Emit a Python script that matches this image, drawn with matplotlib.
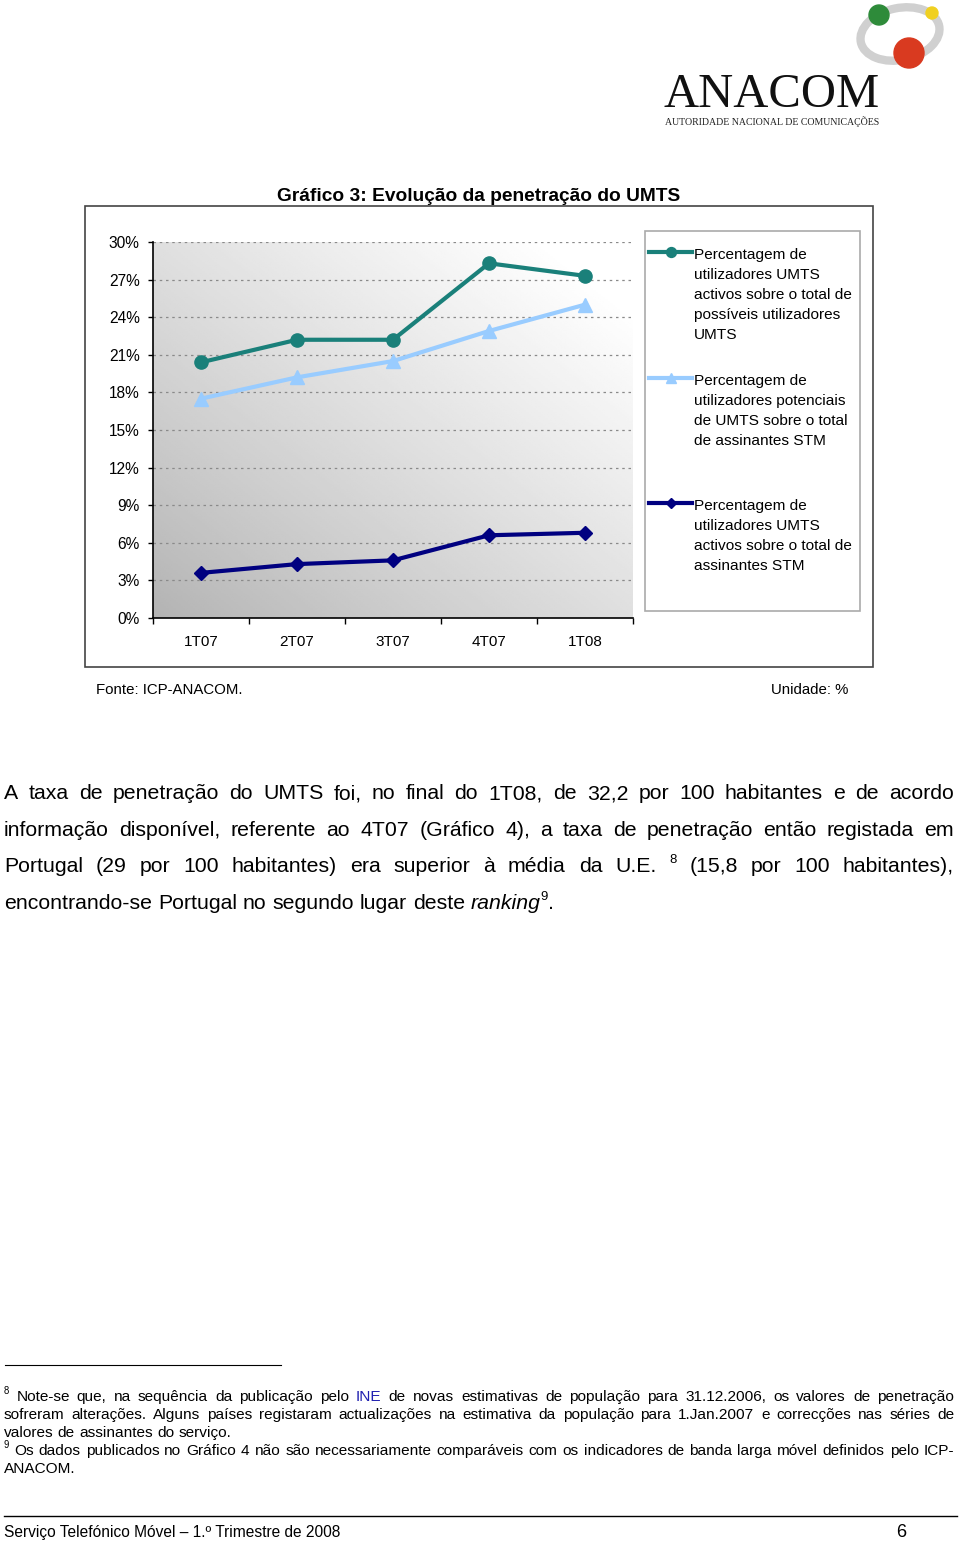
import re
import matplotlib
matplotlib.use('Agg')
import matplotlib.pyplot as plt
import numpy as np
from matplotlib.patches import Rectangle, Ellipse, Circle

plt.rcParams['font.family'] = ['Liberation Sans', 'DejaVu Sans']

# dados do gráfico
trimestres = ['1T07', '2T07', '3T07', '4T07', '1T08']
activos_possiveis = [20.4, 22.2, 22.2, 28.3, 27.3]
potenciais_stm = [17.5, 19.2, 20.5, 22.9, 25.0]
activos_stm = [3.6, 4.3, 4.6, 6.6, 6.8]
ticks_y = [0, 3, 6, 9, 12, 15, 18, 21, 24, 27, 30]
cores = ['#1A807A', '#99CCFF', '#000080']
marcadores = ['o', '^', 'D']

legenda = [
    ['Percentagem de', 'utilizadores UMTS', 'activos sobre o total de',
     'possíveis utilizadores', 'UMTS'],
    ['Percentagem de', 'utilizadores potenciais', 'de UMTS sobre o total',
     'de assinantes STM'],
    ['Percentagem de', 'utilizadores UMTS', 'activos sobre o total de',
     'assinantes STM'],
]

paragrafo = [
    "A taxa de penetração do UMTS foi, no final do 1T08, de 32,2 por 100 habitantes e de acordo",
    "informação disponível, referente ao 4T07 (Gráfico 4), a taxa de penetração então registada em",
    "Portugal (29 por 100 habitantes) era superior à média da U.E. ^8 (15,8 por 100 habitantes),",
    "encontrando-se Portugal no segundo lugar deste *ranking*^9.",
]
notas = [
    "^8 Note-se que, na sequência da publicação pelo #INE de novas estimativas de população para 31.12.2006, os valores de penetração",
    "sofreram alterações. Alguns países registaram actualizações na estimativa da população para 1.Jan.2007 e correcções nas séries de",
    "valores de assinantes do serviço.",
    "^9 Os dados publicados no Gráfico 4 não são necessariamente comparáveis com os indicadores de banda larga móvel definidos pelo ICP-",
    "ANACOM.",
]

fig = plt.figure(figsize=(9.6, 15.42), dpi=100)
pg = fig.add_axes([0, 0, 1, 1])
pg.set_xlim(0, 960)
pg.set_ylim(1542, 0)
pg.axis('off')
r = fig.canvas.get_renderer()


def largura(t):
    return t.get_window_extent(renderer=r).width


def escreve(linha, y, x0, x1, tam, justifica=True):
    blocos = []
    for palavra in linha.split(' '):
        pecas = []
        for p in re.findall(r'\*[^*]+\*|\^\d|#\w+|[^*^#]+', palavra):
            kw = dict(fontsize=tam, va='baseline', ha='left', color='black')
            dy = 0
            if p.startswith('*'):
                p = p[1:-1]
                kw['style'] = 'italic'
            elif p.startswith('^'):
                p = p[1:]
                kw['fontsize'] = tam * 0.62
                dy = -tam * 1.389 * 0.45
            elif p.startswith('#'):
                p = p[1:]
                kw['color'] = '#2020B0'
            t = pg.text(0, y + dy, p, **kw)
            pecas.append((t, largura(t)))
        blocos.append(pecas)
    larg = [sum(w for _, w in b) for b in blocos]
    if justifica and len(blocos) > 1:
        esp = (x1 - x0 - sum(larg)) / (len(blocos) - 1)
    else:
        a = pg.text(0, 0, 'x x', fontsize=tam)
        b = pg.text(0, 0, 'xx', fontsize=tam)
        esp = largura(a) - largura(b)
        a.remove()
        b.remove()
    x = x0
    for b in blocos:
        for t, w in b:
            t.set_x(x)
            x += w
        x += esp


# logotipo
pg.add_patch(Ellipse((900, 34), 80, 52, angle=-12, fill=False,
                     edgecolor='#d0d0d0', lw=6))
pg.add_patch(Circle((879, 15), 10, color='#2E8B3A'))
pg.add_patch(Circle((932, 13), 6, color='#F0D020'))
pg.add_patch(Circle((909, 53), 15, color='#D93A20'))
pg.text(664, 107, 'ANACOM', fontsize=35, family='Liberation Serif',
        va='baseline', ha='left', color='#111111')
pg.text(665, 125, 'AUTORIDADE NACIONAL DE COMUNICAÇÕES', fontsize=7.1,
        family='Liberation Serif', va='baseline', ha='left', color='#222222')

# título e moldura
pg.text(479, 201, 'Gráfico 3: Evolução da penetração do UMTS', fontsize=13.8,
        fontweight='bold', ha='center', va='baseline')
pg.add_patch(Rectangle((85, 206), 788, 461, fill=False, edgecolor='#444444', lw=1.2))

# área do gráfico
ax = fig.add_axes([153 / 960, 1 - 618 / 1542, 480 / 960, 376 / 1542])
gx, gy = np.meshgrid(np.linspace(0, 1, 200), np.linspace(1, 0, 200))
grad = 0.70 + 0.30 * np.clip(gx * 0.55 + gy * 0.55, 0, 1) ** 0.9
ax.imshow(grad, extent=[0, 1, 0, 1], transform=ax.transAxes, cmap='gray',
          vmin=0, vmax=1, aspect='auto', zorder=0)

x = np.arange(len(trimestres))
series = [activos_possiveis, potenciais_stm, activos_stm]
tamanhos = [9.5, 10, 7]
for s, c, m, ms in zip(series, cores, marcadores, tamanhos):
    ax.plot(x, s, color=c, lw=3, marker=m, ms=ms, zorder=3, clip_on=False)

ax.set_xlim(-0.5, 4.5)
ax.set_ylim(0, 30)
ax.set_yticks(ticks_y)
ax.set_yticklabels([f'{v}%' for v in ticks_y], fontsize=11.2)
ax.set_xticks(x)
ax.set_xticklabels(trimestres, fontsize=11)
ax.set_xticks(np.arange(-0.5, 5, 1), minor=True)
ax.tick_params(axis='x', which='major', length=0, pad=12)
ax.tick_params(axis='x', which='minor', length=4, width=1, direction='out')
ax.tick_params(axis='y', length=3.5, width=1, pad=6)
for v in ticks_y[1:]:
    ax.axhline(v, color='#8a8a8a', lw=0.9, ls=(0, (2, 3)), zorder=1)
for lado in ['top', 'right']:
    ax.spines[lado].set_visible(False)
ax.spines['left'].set_linewidth(1.2)
ax.spines['bottom'].set_linewidth(1.2)

# legenda
pg.add_patch(Rectangle((645, 231), 215, 380, facecolor='white',
                       edgecolor='#aaaaaa', lw=1.2))
ys_leg = [252, 378, 503]
for linhas, c, m, ms, y0 in zip(legenda, cores, marcadores, tamanhos, ys_leg):
    pg.plot([649, 692], [y0, y0], color=c, lw=3)
    pg.plot([670.5], [y0], color=c, marker=m, ms=ms * 0.75)
    for i, l in enumerate(linhas):
        pg.text(694, y0 + 7 + i * 20, l, fontsize=11.1, va='baseline', ha='left')

pg.text(96, 694, 'Fonte: ICP-ANACOM.', fontsize=10.8, va='baseline', ha='left')
pg.text(848, 694, 'Unidade: %', fontsize=10.8, va='baseline', ha='right')

# texto
for i, l in enumerate(paragrafo):
    escreve(l, 799 + i * 36.7, 4, 954, 15.3, justifica=(i < 3))

pg.plot([5, 281], [1365, 1365], color='black', lw=0.8)
for i, l in enumerate(notas):
    escreve(l, 1401 + i * 18, 4, 954, 11.1, justifica=(i in (0, 1, 3)))

pg.plot([4, 957], [1516, 1516], color='black', lw=1)
pg.text(4, 1537, 'Serviço Telefónico Móvel – 1.º Trimestre de 2008', fontsize=11.2,
        va='baseline', ha='left')
pg.text(901, 1537, '6', fontsize=13, va='baseline', ha='center')

fig.savefig('out.png', dpi=100)
